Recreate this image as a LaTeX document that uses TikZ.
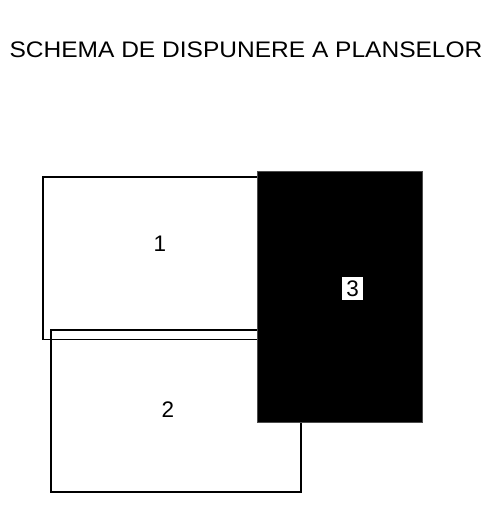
\documentclass[tikz,border=0pt]{standalone}
\usepackage{fontspec}
\setmainfont{Liberation Sans}
\usepackage{tikz}

\begin{document}
\begin{tikzpicture}[x=1pt,y=-1pt,
	every node/.style={font=\fontsize{22.5}{26}\selectfont},
	plansa/.style={line width=1.6pt},
	eticheta/.style={fill=white,inner xsep=4pt,inner ysep=3.5pt}]

	\useasboundingbox (0,0) rectangle (496,511);

	\coordinate (a1) at (42.7,176.7);
	\coordinate (b1) at (258,339.3);
	\coordinate (a2) at (50.7,330);
	\coordinate (b2) at (301,492);
	\coordinate (a3) at (257.7,171.7);
	\coordinate (b3) at (422,422.7);

	\node[anchor=base] (titlu) at (246,57) {\scalebox{1.09}[1]{SCHEMA DE DISPUNERE A PLANSELOR}};

	\draw[plansa] (a1) rectangle (b1);
	\draw[plansa] (a2) rectangle (b2);
	\draw[fill=black,draw=black!70,line width=.6pt] (a3) rectangle (b3);

	\node[anchor=base] (p1) at (160,251) {1};
	\node[anchor=base] (p2) at (168,417) {2};
	\node[eticheta] (p3) at (352.7,288.3) {3};

\end{tikzpicture}
\end{document}
